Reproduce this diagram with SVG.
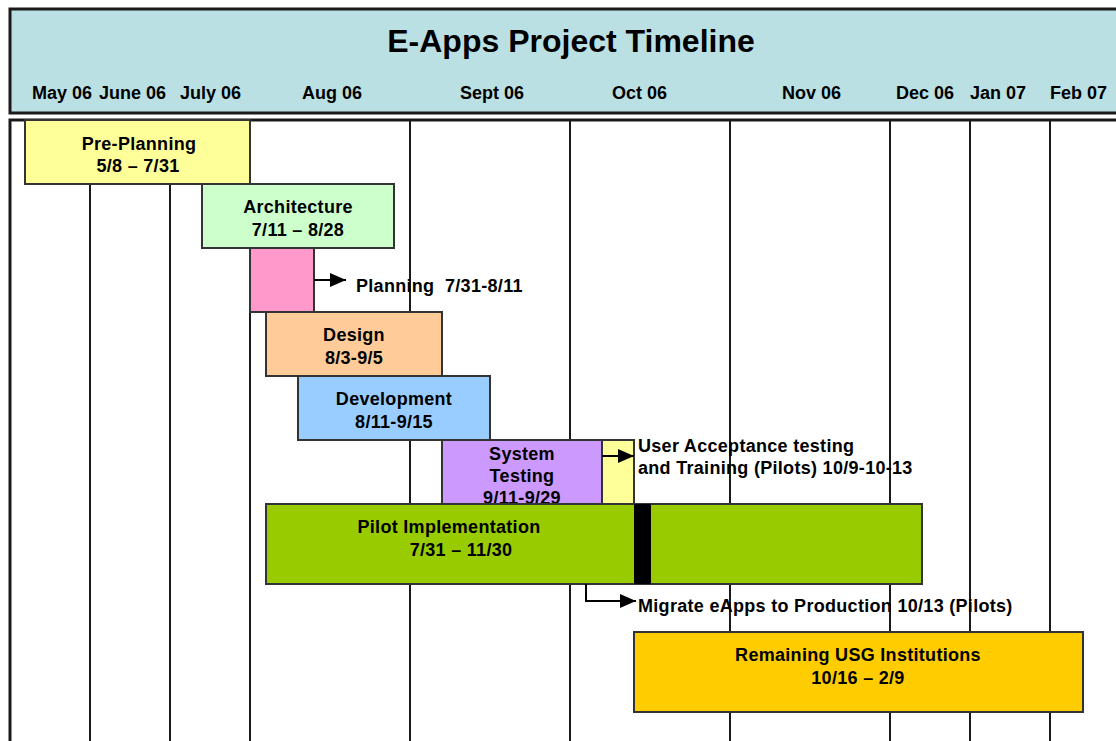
<svg xmlns="http://www.w3.org/2000/svg" width="1116" height="741" viewBox="0 0 1116 741">
<style>
text{font-family:"Liberation Sans",Arial,sans-serif;font-weight:bold;fill:#000}
.t{font-size:32px;text-anchor:middle}
.m{font-size:18px}
.b{font-size:18px;text-anchor:middle;letter-spacing:0.3px}
.l{font-size:18px;letter-spacing:0.3px}
.frame{stroke:#1a1a1a;stroke-width:3}
.grid{stroke:#1a1a1a;stroke-width:2}
.box{stroke:#333;stroke-width:2}
.conn{stroke:#000;stroke-width:2;fill:none}
</style>
<defs>
<marker id="ah" viewBox="0 0 16 14" refX="16" refY="7" markerWidth="16" markerHeight="14" markerUnits="userSpaceOnUse" orient="auto">
<path d="M0,0 L16,7 L0,14 z" fill="#000"/>
</marker>
</defs>
<rect width="1116" height="741" fill="#fff"/>
<g id="header">
<rect class="frame" x="10" y="9" width="1120" height="104" fill="#BBE0E3"/>
<text class="t" x="571" y="52">E-Apps Project Timeline</text>
<text class="m" x="32" y="99">May 06</text>
<text class="m" x="99" y="99">June 06</text>
<text class="m" x="180" y="99">July 06</text>
<text class="m" x="302" y="99">Aug 06</text>
<text class="m" x="460" y="99">Sept 06</text>
<text class="m" x="612" y="99">Oct 06</text>
<text class="m" x="782" y="99">Nov 06</text>
<text class="m" x="896" y="99">Dec 06</text>
<text class="m" x="970" y="99">Jan 07</text>
<text class="m" x="1050" y="99">Feb 07</text>
</g>
<g id="body">
<rect class="frame" x="10" y="120" width="1120" height="640" fill="#fff"/>
<line class="grid" x1="90" y1="120" x2="90" y2="741"/>
<line class="grid" x1="170" y1="120" x2="170" y2="741"/>
<line class="grid" x1="250" y1="120" x2="250" y2="741"/>
<line class="grid" x1="410" y1="120" x2="410" y2="741"/>
<line class="grid" x1="570" y1="120" x2="570" y2="741"/>
<line class="grid" x1="730" y1="120" x2="730" y2="741"/>
<line class="grid" x1="890" y1="120" x2="890" y2="741"/>
<line class="grid" x1="970" y1="120" x2="970" y2="741"/>
<line class="grid" x1="1050" y1="120" x2="1050" y2="741"/>
</g>
<g id="preplanning">
<rect class="box" x="25" y="120" width="225" height="64" fill="#FFFF99"/>
<text class="b" x="139" y="150">Pre-Planning</text>
<text class="b" x="138" y="172">5/8 – 7/31</text>
</g>
<g id="architecture">
<rect class="box" x="202" y="184" width="192" height="64" fill="#CCFFCC"/>
<text class="b" x="298" y="213">Architecture</text>
<text class="b" x="298" y="236">7/11 – 8/28</text>
</g>
<g id="planning">
<rect class="box" x="250" y="248" width="64" height="64" fill="#FF99CC"/>
<text class="l" x="356" y="292" xml:space="preserve">Planning  7/31-8/11</text>
</g>
<g id="design">
<rect class="box" x="266" y="312" width="176" height="64" fill="#FFCC99"/>
<text class="b" x="354" y="341">Design</text>
<text class="b" x="354" y="364">8/3-9/5</text>
</g>
<g id="development">
<rect class="box" x="298" y="376" width="192" height="64" fill="#99CCFF"/>
<text class="b" x="394" y="405">Development</text>
<text class="b" x="394" y="428">8/11-9/15</text>
</g>
<g id="systemtesting">
<rect class="box" x="442" y="440" width="160" height="64" fill="#CC99FF"/>
<text class="b" x="522" y="460">System</text>
<text class="b" x="522" y="482">Testing</text>
<text class="b" x="522" y="504">9/11-9/29</text>
</g>
<g id="uat">
<rect class="box" x="602" y="440" width="32" height="64" fill="#FFFF99"/>
<text class="l" x="638" y="452">User Acceptance testing</text>
<text class="l" x="638" y="474">and Training (Pilots) 10/9-10-13</text>
</g>
<g id="pilot">
<rect class="box" x="266" y="504" width="656" height="80" fill="#99CC00"/>
<rect x="634" y="504" width="17" height="80" fill="#000"/>
<text class="b" x="449" y="533">Pilot Implementation</text>
<text class="b" x="461" y="556">7/31 – 11/30</text>
</g>
<g id="migrate">
<text class="l" x="638" y="612">Migrate eApps to Production 10/13 (Pilots)</text>
</g>
<g id="remaining">
<rect class="box" x="634" y="632" width="449" height="80" fill="#FFCC00"/>
<text class="b" x="858" y="661">Remaining USG Institutions</text>
<text class="b" x="858" y="684">10/16 – 2/9</text>
</g>
<g id="connectors">
<path class="conn" d="M314,280 H346" marker-end="url(#ah)"/>
<path class="conn" d="M602,456 H634" marker-end="url(#ah)"/>
<path class="conn" d="M586,584 V601 H636" marker-end="url(#ah)"/>
</g>
</svg>
